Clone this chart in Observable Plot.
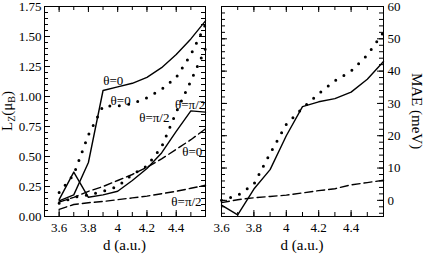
<!DOCTYPE html>
<html><head><meta charset="utf-8">
<script src="https://cdn.jsdelivr.net/npm/d3@7"></script>
<script src="https://cdn.jsdelivr.net/npm/@observablehq/plot@0.6"></script>
<style>
body{margin:0;background:#fff;}
#wrap{position:relative;width:425px;height:257px;font-family:"Liberation Serif",serif;}
#wrap svg{position:absolute;top:0;}
#wrap svg text{font-family:"Liberation Serif",serif;}
</style></head><body><div id="wrap"></div>
<script>
// ---- data ----
const dist = [3.6, 3.7, 3.8, 3.9, 4.0, 4.1, 4.2, 4.3, 4.4, 4.5, 4.6];
// L_Z (mu_B)
const lzSolidTheta0   = [0.13, 0.18, 0.45, 1.05, 1.08, 1.11, 1.16, 1.24, 1.35, 1.48, 1.63];
const lzSolidThetaPi2 = [0.14, 0.37, 0.16, 0.18, 0.21, 0.30, 0.40, 0.53, 0.71, 0.88, 0.87];
const lzDotTheta0     = [0.20, 0.35, 0.68, 0.92, 0.92, 0.94, 0.99, 1.06, 1.16, 1.35, 1.60];
const lzDotThetaPi2   = [0.11, 0.16, 0.18, 0.21, 0.25, 0.35, 0.42, 0.58, 0.87, 1.13, 1.40];
const lzDashTheta0    = [0.12, 0.16, 0.21, 0.25, 0.30, 0.35, 0.41, 0.48, 0.56, 0.64, 0.73];
const lzDashThetaPi2  = [0.06, 0.10, 0.115, 0.125, 0.14, 0.155, 0.17, 0.19, 0.21, 0.235, 0.26];
// MAE (meV)
const maeSolid  = [-1.5, -4.5, 3.5, 9.5, 20, 29, 30.5, 31.5, 33.5, 37.5, 43];
const maeDotted = [0, 1.5, 5, 14.5, 23.5, 28.5, 33, 37, 40, 45, 52];
const maeDashed = [-0.7, 0.2, 0.8, 1.2, 1.6, 2.3, 3.0, 3.6, 4.8, 5.5, 6.2];
// labels
const labelText = ["θ=0", "θ=0", "θ=π/2", "θ=π/2", "θ=0", "θ=π/2"];
const labelD    = [3.97, 4.02, 4.25, 4.495, 4.51, 4.47];
const labelLz   = [1.13, 0.96, 0.82, 0.93, 0.54, 0.12];
// ticks
const xMajor = [3.6, 3.8, 4, 4.2, 4.4];
const xMinorL = [3.5, 3.6, 3.7, 3.8, 3.9, 4.0, 4.1, 4.2, 4.3, 4.4, 4.5];
const xMinorR = [3.7, 3.8, 3.9, 4.0, 4.1, 4.2, 4.3, 4.4, 4.5];
const lzTicks = [0, 0.25, 0.5, 0.75, 1, 1.25, 1.5, 1.75];
const lzMinor = d3.range(1, 35).map(i => i * 0.05);
const maeTicks = [0, 10, 20, 30, 40, 50, 60];
const maeMinor = d3.range(-4, 60, 2);

const FONT = "Liberation Serif";
const H = 257, MT = 6, MB = 41;
const FH = H - MT - MB;
const line = {stroke: "black", strokeWidth: 1.4};
const dashed = {...line, strokeDasharray: "8,4"};
const dotted = {stroke: "black", strokeWidth: 3, strokeLinecap: "round", strokeDasharray: "0,9.5"};

function ticks(FW, xMaj, xMin, yMaj, yMin, len, minLen) {
  const t = [];
  for (const [arr, L] of [[xMaj, len], [xMin, minLen]]) {
    t.push(Plot.tickX(arr, {x: v => v, insetTop: FH - L, stroke: "black"}));
    t.push(Plot.tickX(arr, {x: v => v, insetBottom: FH - L, stroke: "black"}));
  }
  for (const [arr, L] of [[yMaj, len], [yMin, minLen]]) {
    t.push(Plot.tickY(arr, {y: v => v, insetRight: FW - L, stroke: "black"}));
    t.push(Plot.tickY(arr, {y: v => v, insetLeft: FW - L, stroke: "black"}));
  }
  return t;
}

const left = Plot.plot({
  width: 210, height: H, marginLeft: 44, marginRight: 5, marginTop: MT, marginBottom: MB,
  style: {fontFamily: FONT, fontSize: "13px", background: "transparent", overflow: "visible", color: "black"},
  x: {domain: [3.5, 4.6]},
  y: {domain: [0, 1.75]},
  marks: [
    ...ticks(161, xMajor, xMinorL, lzTicks, lzMinor, 6, 4),
    Plot.axisX(xMajor, {tickSize: 0, tickPadding: 6, tickFormat: v => String(v), label: null, fontSize: 13}),
    Plot.axisY(lzTicks, {tickSize: 0, tickPadding: 3, tickFormat: d3.format(".2f"), label: null, fontSize: 13}),
    Plot.line(dist, {x: dist, y: lzSolidTheta0, ...line}),
    Plot.line(dist, {x: dist, y: lzSolidThetaPi2, ...line}),
    Plot.line(dist, {x: dist, y: lzDashTheta0, ...dashed}),
    Plot.line(dist, {x: dist, y: lzDashThetaPi2, ...dashed}),
    Plot.line(dist, {x: dist, y: lzDotTheta0, ...dotted}),
    Plot.line(dist, {x: dist, y: lzDotThetaPi2, ...dotted}),
    Plot.text(labelText, {x: labelD, y: labelLz, text: d => d, fontSize: 13, fontFamily: FONT, fill: "black"}),
    Plot.frame({stroke: "black", strokeWidth: 1})
  ]
});

const right = Plot.plot({
  width: 215, height: H, marginLeft: 11, marginRight: 42, marginTop: MT, marginBottom: MB,
  style: {fontFamily: FONT, fontSize: "13px", background: "transparent", overflow: "visible", color: "black"},
  x: {domain: [3.6, 4.6]},
  y: {domain: [-5, 60]},
  marks: [
    ...ticks(162, xMajor, xMinorR, maeTicks, maeMinor, 6, 4),
    Plot.axisX(xMajor, {tickSize: 0, tickPadding: 6, tickFormat: v => String(v), label: null, fontSize: 13}),
    Plot.axisY(maeTicks, {anchor: "right", tickSize: 0, tickPadding: 4, label: null, fontSize: 13}),
    Plot.line(dist, {x: dist, y: maeSolid, ...line}),
    Plot.line(dist, {x: dist, y: maeDashed, ...dashed}),
    Plot.line(dist, {x: dist, y: maeDotted, ...dotted}),
    Plot.frame({stroke: "black", strokeWidth: 1})
  ]
});

const wrap = document.getElementById("wrap");
left.style.left = "0px";
right.style.left = "210px";
wrap.appendChild(left);
wrap.appendChild(right);

// axis titles
const svg = d3.select(wrap).append("svg")
  .attr("width", 425).attr("height", 257)
  .style("left", "0px").style("pointer-events", "none")
  .attr("font-family", FONT).attr("fill", "black");
svg.append("text").attr("x", 124.5).attr("y", 250).attr("text-anchor", "middle").attr("font-size", 15).text("d (a.u.)");
svg.append("text").attr("x", 302).attr("y", 250).attr("text-anchor", "middle").attr("font-size", 15).text("d (a.u.)");
const ly = svg.append("text").attr("transform", "translate(12,111) rotate(-90)").attr("text-anchor", "middle").attr("font-size", 15);
ly.append("tspan").text("L");
ly.append("tspan").attr("font-size", 10).attr("dy", 3).text("Z");
ly.append("tspan").attr("dy", -3).text("(μ");
ly.append("tspan").attr("font-size", 10).attr("dy", 3).text("B");
ly.append("tspan").attr("dy", -3).text(")");
svg.append("text").attr("transform", "translate(412,111) rotate(90)").attr("text-anchor", "middle").attr("font-size", 15).text("MAE (meV)");
d3.selectAll("#wrap text").style("font-family", "'Liberation Serif', serif");
</script></body></html>
